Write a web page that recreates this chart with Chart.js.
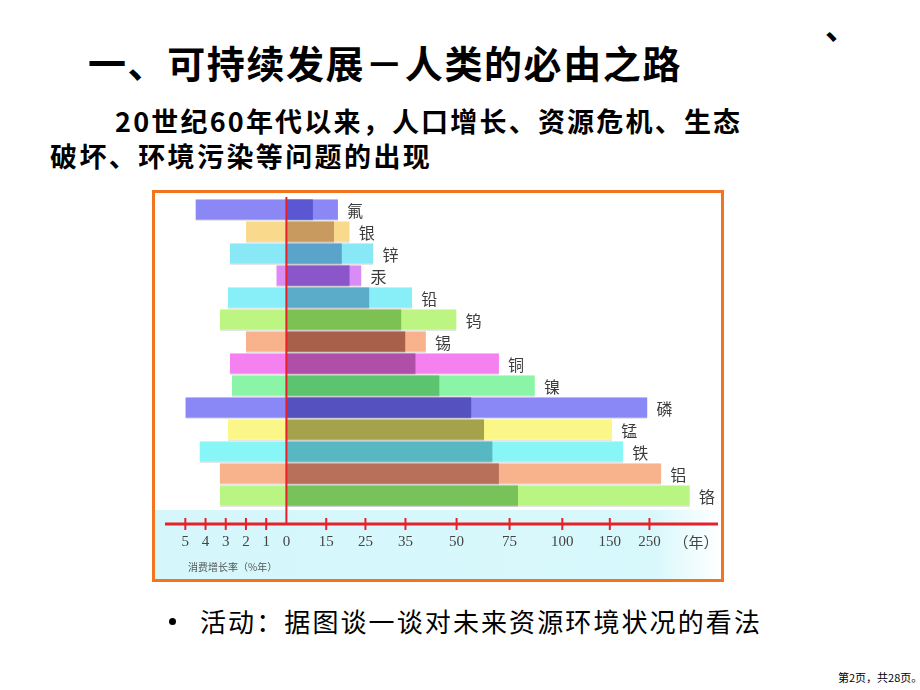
<!doctype html>
<html lang="zh">
<head>
  <meta charset="utf-8">
  <title>可持续发展</title>
  <script src="https://cdn.jsdelivr.net/npm/chart.js"></script>
  <style>
    body { margin: 0; width: 920px; height: 690px; background: #fff; position: relative; overflow: hidden;
           font-family: "Noto Sans CJK SC", sans-serif; color: #000; }
    .t { position: absolute; white-space: nowrap; }
    #title { left: 88px; top: 43px; font-size: 38px; line-height: 38px; font-weight: bold; letter-spacing: 1.6px; }
    #line1 { left: 115px; top: 107px; font-size: 27px; line-height: 27px; font-weight: bold; letter-spacing: 2.2px; }
    #line2 { left: 50px; top: 142px; font-size: 27px; line-height: 27px; font-weight: bold; letter-spacing: 2.4px; }
    #mark { left: 825px; top: 9px; font-size: 32px; line-height: 32px; font-weight: bold; }
    #bullet { position: absolute; left: 169px; top: 618px; width: 7px; height: 7px; border-radius: 50%; background: #000; }
    #activity { left: 200px; top: 608px; font-size: 26px; line-height: 26px; letter-spacing: 2.1px; }
    #footer { left: 838px; top: 671px; font-size: 11px; line-height: 12px; }
    #box { position: absolute; left: 152px; top: 190px; width: 566px; height: 386px; border: 3px solid #f4731f; }
    #band { position: absolute; left: 155px; top: 510px; width: 566px; height: 69px;
            background: linear-gradient(to right, #d5f7fb 0%, #d8f8fc 88%, #ffffff 100%); }
    #chart { position: absolute; left: 155px; top: 193px; }
  </style>
</head>
<body>
  <div class="t" id="title">一、可持续发展－人类的必由之路</div>
  <div class="t" id="mark">、</div>
  <div class="t" id="line1">20世纪60年代以来，人口增长、资源危机、生态</div>
  <div class="t" id="line2">破坏、环境污染等问题的出现</div>
  <div id="box"></div>
  <div id="band"></div>
  <canvas id="chart" width="566" height="386"></canvas>
  <div id="bullet"></div>
  <div class="t" id="activity">活动：据图谈一谈对未来资源环境状况的看法</div>
  <div class="t" id="footer">第2页，共28页。</div>

<script>
  // data
  const elements = ['氟', '银', '锌', '汞', '铅', '钨', '锡', '铜', '镍', '磷', '锰', '铁', '铝', '铬'];
  const growthRate = [4.5, 2.0, 2.8, 0.5, 2.9, 3.3, 2.0, 2.8, 2.7, 5.0, 2.9, 4.3, 3.3, 3.3];   // 消费增长率 %/年
  const staticYears = [18, 21, 27, 24, 37, 50, 41, 70, 87, 245, 156, 184, 280, 352];          // 年
  const expYears = [10, 17, 19, 21, 26, 34, 35, 38, 45, 57, 63, 67, 70, 79];                  // 年
  const growthTicks = [5, 4, 3, 2, 1];
  const yearTicks = [0, 15, 25, 35, 50, 75, 100, 150, 250];

  const lightColors = ['#8b88f6', '#f9da8c', '#88e8f6', '#da8cf6', '#88eef7', '#bdf582', '#f8b28c',
                       '#f580f0', '#8af5a6', '#8a88f6', '#fbf688', '#88f6f6', '#f8b28c', '#b9f582'];
  const darkColors = ['#5b56d2', '#c99a60', '#5aa4cc', '#8a56c9', '#5aacc8', '#7cc152', '#a8604a',
                      '#b04fa8', '#5cc46e', '#5552c0', '#a4a24a', '#58b8c2', '#b8705a', '#78c25a'];

  // the year side of the original axis is not evenly spaced: where each year tick sits on the x scale
  const yearTickPos = [0, 1.97, 3.91, 5.89, 8.42, 11.04, 13.65, 16.0, 17.96];

  function yearsToPos(v) {
    let i = 0;
    while (i < yearTicks.length - 2 && v > yearTicks[i + 1]) i++;
    const f = (v - yearTicks[i]) / (yearTicks[i + 1] - yearTicks[i]);
    return yearTickPos[i] + f * (yearTickPos[i + 1] - yearTickPos[i]);
  }

  const lightBars = elements.map((e, i) => [-growthRate[i], yearsToPos(staticYears[i])]);
  const darkBars = elements.map((e, i) => [0, yearsToPos(expYears[i])]);

  const AXIS_Y = 331;

  const overlay = {
    id: 'overlay',
    afterDatasetsDraw(chart) {
      const ctx = chart.ctx;
      const x = chart.scales.x;
      const y = chart.scales.y;
      const zero = x.getPixelForValue(0);
      ctx.save();

      // element names at the end of each bar
      ctx.font = '16px "Noto Sans CJK SC"';
      ctx.fillStyle = '#3c3c3c';
      ctx.textAlign = 'left';
      ctx.textBaseline = 'middle';
      elements.forEach((name, i) => {
        ctx.fillText(name, x.getPixelForValue(lightBars[i][1]) + 9, y.getPixelForValue(i) + 1);
      });

      // red zero line and axis
      ctx.strokeStyle = '#e8202a';
      ctx.lineWidth = 2;
      ctx.beginPath();
      ctx.moveTo(zero, 4);
      ctx.lineTo(zero, AXIS_Y);
      ctx.stroke();
      ctx.lineWidth = 3;
      ctx.beginPath();
      ctx.moveTo(10, AXIS_Y);
      ctx.lineTo(563, AXIS_Y);
      ctx.stroke();

      const ticks = growthTicks.map(g => ({ pos: -g, label: String(g) }))
        .concat(yearTicks.map((t, i) => ({ pos: yearTickPos[i], label: String(t) })));
      ctx.lineWidth = 2;
      ctx.font = '15px "Liberation Serif", "DejaVu Serif", serif';
      ctx.fillStyle = '#444';
      ctx.textAlign = 'center';
      ticks.forEach(t => {
        const px = x.getPixelForValue(t.pos);
        if (t.pos !== 0) {
          ctx.beginPath();
          ctx.moveTo(px, AXIS_Y - 6);
          ctx.lineTo(px, AXIS_Y + 6);
          ctx.stroke();
        }
        ctx.fillText(t.label, px, AXIS_Y + 18);
      });

      ctx.font = '15px "Noto Sans CJK SC"';
      ctx.fillText('（年）', 541, AXIS_Y + 18);
      ctx.font = '10px "Noto Sans CJK SC"';
      ctx.fillStyle = '#555';
      ctx.textAlign = 'left';
      ctx.fillText('消费增长率（%年）', 33, AXIS_Y + 43);
      ctx.restore();
    }
  };

  new Chart(document.getElementById('chart'), {
    type: 'bar',
    data: {
      labels: elements,
      datasets: [{
        label: '静态',
        data: lightBars,
        backgroundColor: lightColors,
        borderColor: 'rgba(0,0,0,0.18)',
        borderWidth: { top: 0, left: 0, right: 0, bottom: 1 },
        borderSkipped: false,
        grouped: false,
        order: 1
      }, {
        label: '指数',
        data: darkBars,
        backgroundColor: darkColors,
        borderColor: 'rgba(0,0,0,0.18)',
        borderWidth: { top: 0, left: 0, right: 0, bottom: 1 },
        borderSkipped: false,
        grouped: false,
        order: 0
      }]
    },
    options: {
      indexAxis: 'y',
      responsive: false,
      animation: false,
      layout: { padding: { left: 0, right: 0, top: 6, bottom: 72 } },
      datasets: { bar: { categoryPercentage: 1, barPercentage: 0.97 } },
      scales: {
        x: { type: 'linear', min: -6.5, max: 21.5, display: false },
        y: { display: false }
      },
      plugins: { legend: { display: false }, tooltip: { enabled: false } }
    },
    plugins: [overlay]
  });
</script>
</body>
</html>
